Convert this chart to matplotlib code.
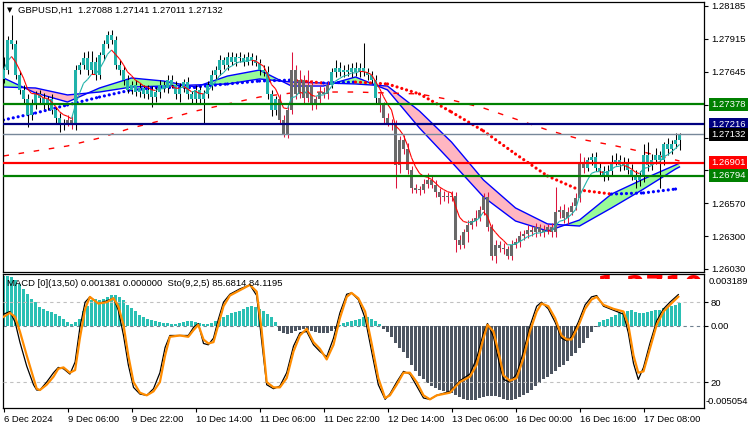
import numpy as np
import matplotlib
matplotlib.use("Agg")
import matplotlib.pyplot as plt
import matplotlib.transforms as mtransforms
from matplotlib.collections import LineCollection
from matplotlib.patches import Rectangle

plt.rcParams['font.family'] = ['Liberation Sans', 'DejaVu Sans']

# ---------------- data ----------------
symbol_title = "GBPUSD,H1  1.27088 1.27141 1.27011 1.27132"
macd_title = "MACD [0](13,50) 0.001381 0.000000  Sto(9,2,5) 85.6814 84.1195"

open_first = 1.2759
close = [
    1.2766, 1.2791, 1.2787, 1.2762, 1.2750, 1.2742, 1.2729, 1.2737, 1.2746, 1.2743,
    1.2737, 1.2742, 1.2733, 1.2727, 1.2721, 1.2723, 1.2725, 1.2721, 1.2766, 1.2770,
    1.2776, 1.2766, 1.2773, 1.2762, 1.2778, 1.2787, 1.2795, 1.2791, 1.2770, 1.2766,
    1.2758, 1.2750, 1.2754, 1.2748, 1.2751, 1.2746, 1.2750, 1.2744, 1.2748, 1.2754,
    1.2751, 1.2758, 1.2754, 1.2746, 1.2751, 1.2756, 1.2746, 1.2742, 1.2750, 1.2742,
    1.2746, 1.2754, 1.2762, 1.2766, 1.2774, 1.2770, 1.2777, 1.2773, 1.2777, 1.2776,
    1.2773, 1.2777, 1.2774, 1.2772, 1.2766, 1.2764, 1.2746, 1.2733, 1.2742, 1.2725,
    1.2714, 1.2733, 1.2766, 1.2746, 1.2758, 1.2743, 1.2754, 1.2737, 1.2742, 1.2748,
    1.2746, 1.2754, 1.2764, 1.2768, 1.2764, 1.2766, 1.2764, 1.2768, 1.2764, 1.2768,
    1.2764, 1.2762, 1.2758, 1.2743, 1.2737, 1.2727, 1.2723, 1.2721, 1.2688, 1.2709,
    1.2701, 1.2684, 1.2669, 1.2668, 1.2668, 1.2673, 1.2676, 1.2672, 1.2666, 1.2662,
    1.2663, 1.2662, 1.2663, 1.2627, 1.2623, 1.2633, 1.2639, 1.2642, 1.2645, 1.2651,
    1.2662, 1.2637, 1.2614, 1.2623, 1.2620, 1.2619, 1.2614, 1.2623, 1.2625, 1.2630,
    1.2632, 1.2635, 1.2633, 1.2637, 1.2633, 1.2635, 1.2637, 1.2633, 1.2650, 1.2651,
    1.2645, 1.2650, 1.2655, 1.2661, 1.2691, 1.2686, 1.2692, 1.2695, 1.2686, 1.2683,
    1.2680, 1.2683, 1.2691, 1.2692, 1.2688, 1.2690, 1.2684, 1.2680, 1.2676, 1.2678,
    1.2696, 1.2688, 1.2692, 1.2696, 1.2692, 1.2705, 1.2701, 1.2705, 1.27088, 1.27132,
]
# wick lengths above / below the candle body, in pips
upper_wick_pips = [
    11, 3, 20, 4, 3, 4, 4, 5, 3, 4,
    4, 3, 4, 3, 4, 3, 4, 3, 4, 3,
    5, 6, 9, 4, 3, 4, 3, 4, 3, 4,
    3, 4, 3, 4, 4, 3, 4, 3, 4, 4,
    3, 4, 4, 3, 4, 3, 4, 3, 4, 3,
    4, 3, 4, 3, 4, 3, 4, 4, 3, 4,
    3, 4, 3, 4, 3, 4, 5, 4, 3, 4,
    4, 5, 15, 4, 8, 4, 12, 4, 3, 5,
    4, 3, 4, 6, 5, 4, 5, 4, 5, 4,
    20, 4, 3, 4, 4, 3, 4, 3, 4, 3,
    4, 5, 3, 4, 3, 4, 6, 3, 4, 3,
    4, 3, 4, 3, 4, 3, 4, 3, 6, 4,
    3, 4, 3, 4, 3, 4, 3, 4, 3, 4,
    3, 4, 3, 4, 3, 4, 3, 4, 20, 4,
    5, 4, 3, 4, 7, 4, 3, 3, 4, 5,
    4, 5, 5, 6, 4, 5, 4, 5, 4, 5,
    9, 11, 5, 6, 4, 2, 5, 4, 6, 1,
]
lower_wick_pips = [
    4, 3, 4, 3, 4, 3, 10, 4, 3, 4,
    3, 4, 3, 4, 6, 4, 3, 3, 4, 3,
    3, 4, 3, 4, 3, 4, 3, 4, 3, 4,
    4, 3, 4, 3, 4, 3, 4, 8, 4, 5,
    3, 4, 3, 4, 6, 3, 4, 3, 4, 3,
    19, 3, 4, 3, 4, 3, 4, 3, 4, 3,
    4, 3, 4, 3, 4, 3, 4, 5, 4, 3,
    3, 4, 3, 4, 3, 4, 3, 4, 3, 4,
    3, 4, 3, 4, 3, 4, 3, 4, 3, 4,
    3, 4, 3, 4, 5, 4, 3, 4, 19, 6,
    4, 3, 4, 3, 4, 3, 4, 3, 4, 6,
    3, 5, 3, 10, 4, 3, 8, 3, 4, 3,
    4, 3, 4, 6, 3, 4, 3, 4, 3, 4,
    3, 4, 3, 4, 3, 4, 3, 4, 4, 5,
    4, 5, 3, 4, 3, 4, 3, 4, 3, 4,
    5, 4, 4, 3, 5, 4, 3, 4, 7, 5,
    4, 5, 4, 3, 23, 4, 5, 4, 3, 8,
]
bear_segments = [(16, 17), (69, 81), (94, 145)]

# moving averages read at every 8th bar
ma_idx = [0, 8, 16, 24, 32, 40, 48, 56, 64, 72, 80, 88, 96, 104, 112, 120,
          128, 136, 144, 152, 160, 168, 169]
ribbon_fast = [1.27595, 1.27472, 1.27398, 1.27513, 1.27595, 1.27570, 1.27521,
               1.27611, 1.27660, 1.27529, 1.27529, 1.27603, 1.27497, 1.27185,
               1.26907, 1.26620, 1.26423, 1.26341, 1.26431, 1.26644, 1.26767,
               1.26882, 1.26898]
ribbon_slow = [1.27521, 1.27513, 1.27456, 1.27480, 1.27521, 1.27529, 1.27538,
               1.27546, 1.27587, 1.27562, 1.27554, 1.27546, 1.27529, 1.27324,
               1.27070, 1.26759, 1.26530, 1.26399, 1.26382, 1.26530, 1.26685,
               1.26849, 1.26866]
dotted_ma = [1.27251, 1.27308, 1.27374, 1.27439, 1.27497, 1.27521, 1.27521,
             1.27546, 1.27570, 1.27578, 1.27554, 1.27562, 1.27546, 1.27464,
             1.27316, 1.27161, 1.26972, 1.26792, 1.26677, 1.26644, 1.26653,
             1.26685, 1.26694]
dashed_ma = [1.26956, 1.26997, 1.27038, 1.27103, 1.27185, 1.27251, 1.27324,
             1.27382, 1.27439, 1.27472, 1.27480, 1.27480, 1.27472, 1.27464,
             1.27415, 1.27349, 1.27259, 1.27169, 1.27095, 1.27046, 1.26988,
             1.26923, 1.26915]

level_values = [1.27378, 1.27216, 1.27132, 1.26901, 1.26794]
level_labels = ["1.27378", "1.27216", "1.27132", "1.26901", "1.26794"]

price_ticks = [1.28185, 1.27915, 1.27645, 1.27375, 1.27105, 1.26840, 1.26570, 1.26300, 1.26030]
price_tick_labels = ["1.28185", "1.27915", "1.27645", "1.27375", "1.27105", "1.26840",
                     "1.26570", "1.26300", "1.26030"]

time_labels = ["6 Dec 2024", "9 Dec 06:00", "9 Dec 22:00", "10 Dec 14:00", "11 Dec 06:00",
               "11 Dec 22:00", "12 Dec 14:00", "13 Dec 06:00", "16 Dec 00:00",
               "16 Dec 16:00", "17 Dec 08:00"]

# MACD histogram in units of 1e-5
macd_hist_e5 = [
    309, 306, 300, 279, 258, 228, 197, 166, 146, 115,
    105, 94, 84, 74, 63, 43, 23, 12, 23, 43,
    94, 125, 156, 166, 160, 166, 177, 192, 192, 177,
    156, 131, 111, 90, 69, 57, 45, 33, 29, 23,
    18, 17, 12, 12, 20, 26, 29, 29, 23, 17,
    12, 12, 20, 29, 37, 54, 68, 78, 84, 94,
    105, 115, 125, 115, 105, 94, 74, 54, 23, -33,
    -45, -49, -45, -33, -25, -18, -23, -29, -35, -41,
    -45, -41, -33, -18, 8, 18, 25, 31, 37, 45,
    55, 57, 45, 29, 12, -18, -39, -69, -106, -137,
    -162, -199, -238, -279, -306, -326, -351, -371, -383, -394,
    -398, -404, -412, -424, -438, -449, -459, -459, -457, -445,
    -438, -431, -429, -429, -438, -449, -455, -459, -449, -437,
    -424, -412, -394, -373, -352, -330, -312, -295, -275, -254,
    -238, -217, -186, -168, -137, -106, -74, -39, -8, 26,
    35, 41, 57, 69, 78, 84, 94, 98, 84, 76,
    78, 84, 90, 97, 100, 111, 117, 123, 131, 138,
]

stoch_idx = [0, 1.6, 2.9, 4.1, 5.8, 7.5, 8.3, 9.1, 10.8, 12.5, 13.7, 15, 16.6, 17.9,
             19.1, 20.4, 21.6, 23.7, 25.8, 27.5, 28.7, 30, 31.2, 32.5, 34.1, 35.8,
             37.5, 39.1, 40.4, 41.6, 44.1, 46.2, 47.5, 48.7, 50, 51.2, 52.5, 53.7,
             55, 56.6, 59.1, 61.6, 63.3, 64.5, 65.8, 67.5, 69.1, 70.8, 72.5, 74.1,
             75.8, 77.5, 79.1, 80.8, 82.5, 84.1, 85.8, 87, 88.7, 90.4, 92.1, 93.7,
             95.4, 96.6, 98.3, 100, 101.6, 103.3, 105, 106.6, 108.3, 111.6, 114.1,
             116.6, 118.3, 120, 121, 122.5, 124.1, 125, 126.6, 128.3, 130, 131.6,
             133.3, 134.5, 136.2, 137.9, 139.5, 140.8, 142, 143.7, 145.4, 147,
             148.3, 150, 152.5, 155, 156.2, 157.5, 158.7, 160, 161.6, 163.3, 165,
             166.6, 168.7]
stoch_signal = [69, 72, 69, 58, 40, 23, 15, 14, 18, 24, 30, 31, 27, 29,
                53, 75, 84, 79, 80, 83, 77, 63, 40, 20, 12, 10,
                13, 20, 40, 54, 55, 54, 59, 63, 52, 49, 50, 63,
                77, 85, 89, 93, 88, 60, 20, 16, 16, 23, 43, 55,
                60, 50, 45, 37, 48, 68, 84, 87, 83, 73, 48, 23,
                8, 10, 18, 27, 27, 20, 10, 7, 10, 12, 20,
                24, 33, 53, 63, 58, 38, 25, 21, 23, 38, 58,
                73, 79, 77, 68, 55, 52, 52, 62, 75, 82,
                84, 78, 75, 73, 63, 40, 27, 28, 45, 63, 73,
                78, 84.1]
stoch_main = [71, 73, 65, 50, 32, 18, 14, 14, 20, 27, 31, 30, 26, 35,
              61, 80, 84, 79, 81, 83, 74, 55, 33, 16, 11, 10,
              15, 27, 46, 55, 55, 55, 61, 64, 49, 48, 53, 67,
              80, 86, 90, 93, 85, 52, 18, 15, 17, 27, 47, 57,
              58, 48, 43, 39, 53, 72, 86, 87, 82, 68, 42, 18,
              7, 11, 20, 28, 26, 17, 8, 7, 10, 13, 21,
              26, 38, 57, 64, 54, 32, 22, 20, 26, 43, 62,
              77, 80, 75, 65, 53, 51, 54, 65, 78, 84,
              85, 77, 74, 71, 57, 34, 22, 31, 49, 66, 75,
              80, 85.7]

macd_top, macd_bottom = 0.003189, -0.005054

# ---------------- colours ----------------
TEAL = '#20B2AA'
HIST_TEAL = '#2AC0B4'
GRAY = '#696969'
CRIMSON = '#DC143C'
SLATE = '#4D5561'
level_colors = ['#008000', '#000080', '#778899', '#FF0000', '#008000']
label_box_colors = ['#008000', '#000080', '#000000', '#FF0000', '#008000']
level_widths = [1.6, 1.6, 1.0, 1.6, 1.6]
FS = 6.8

# ---------------- figure ----------------
W, H = 750, 430
fig = plt.figure(figsize=(W / 100, H / 100), dpi=100)


def rect(l, t, r, b):
    return [l / W, 1 - b / H, (r - l) / W, (b - t) / H]


ax = fig.add_axes(rect(3, 2, 704, 272))
axm = fig.add_axes(rect(3, 274, 704, 408))

n = len(close)
idx = np.arange(n)
c = np.array(close)
o = np.r_[open_first, c[:-1]]
hi = np.maximum(o, c) + np.array(upper_wick_pips) * 1e-4
lo = np.minimum(o, c) - np.array(lower_wick_pips) * 1e-4
bear = np.zeros(n, bool)
for s, e in bear_segments:
    bear[s:e + 1] = True

xlim = (-0.125, -0.125 + 701 / 4)

# ribbon
mi = np.array(ma_idx)
rf = np.array(ribbon_fast)
rs = np.array(ribbon_slow)
ax.fill_between(mi, rf, rs, where=rf >= rs, interpolate=True, color='#98FB98', lw=0, zorder=1)
ax.fill_between(mi, rf, rs, where=rf < rs, interpolate=True, color='#FFB6C1', lw=0, zorder=1)
ax.plot(mi, rf, color='#0000FF', lw=1.0, zorder=1.5)
ax.plot(mi, rs, color='#0000FF', lw=1.0, zorder=1.5)

# dashed long MA
ax.plot(mi, dashed_ma, color='#FF0000', lw=1.0, ls=(0, (4, 7)), zorder=1.6)

# dotted MA, coloured by direction
dm = np.array(dotted_ma)
for k in range(len(mi) - 1):
    col = '#0000FF' if dm[k + 1] >= dm[k] else '#FF0000'
    ax.plot(mi[k:k + 2], dm[k:k + 2], color=col, lw=2.3, ls=(0, (0.01, 1.55)),
            dash_capstyle='round', zorder=2)

# candles
wick_cols = [CRIMSON if b else 'black' for b in bear]
body_cols = [GRAY if b else TEAL for b in bear]
ax.vlines(idx, lo, hi, colors=wick_cols, lw=0.75, zorder=3)
heights = np.maximum(np.abs(c - o), 0.00002)
ax.bar(idx, heights, bottom=np.minimum(o, c), width=0.78, color=body_cols, lw=0, zorder=4)

# thin fast EMA of the closes, coloured by direction
ema = np.empty(n)
ema[0] = c[0]
alpha = 2 / (6 + 1)
for i in range(1, n):
    ema[i] = ema[i - 1] + alpha * (c[i] - ema[i - 1])
segs = [[(idx[i], ema[i]), (idx[i + 1], ema[i + 1])] for i in range(n - 1)]
seg_cols = [TEAL if ema[i + 1] >= ema[i] else '#FF0000' for i in range(n - 1)]
ax.add_collection(LineCollection(segs, colors=seg_cols, linewidths=0.8, zorder=5))

# horizontal levels with price boxes
trans = mtransforms.blended_transform_factory(ax.transAxes, ax.transData)
for val, lab, lc, bc, lw in zip(level_values, level_labels, level_colors,
                                 label_box_colors, level_widths):
    ax.axhline(val, color=lc, lw=lw, zorder=6)
    ax.text(1 + 7 / 701, val, lab, transform=trans, color='white', fontsize=FS,
            va='center', ha='left', clip_on=False, zorder=10,
            bbox=dict(boxstyle='square,pad=0.22', fc=bc, ec='none'))

ax.set_xlim(*xlim)
ax.set_ylim(1.28234 - 272 * 0.00008194, 1.28234 - 2 * 0.00008194)
ax.set_xticks([])
ax.yaxis.tick_right()
ax.set_yticks(price_ticks)
ax.set_yticklabels(price_tick_labels)
ax.tick_params(axis='y', length=3, width=0.8, pad=2, labelsize=FS, colors='black')
for sp in ax.spines.values():
    sp.set_color('black')
    sp.set_linewidth(0.9)

fig.text(18 / W, 1 - 10 / H, symbol_title, fontsize=FS, va='center', ha='left')
fig.text(7 / W, 1 - 10 / H, '\u25BC', fontsize=5, va='center', ha='left', family='DejaVu Sans')

# ---------------- MACD / Stochastic panel ----------------
hist = np.array(macd_hist_e5) * 1e-5
axm.bar(idx, hist, width=0.75, color=[HIST_TEAL if v >= 0 else SLATE for v in hist], lw=0, zorder=2)
axm.axhline(0, color='#708090', lw=0.8, ls=(0, (3, 3)), zorder=1)
axm.set_xlim(*xlim)
axm.set_ylim(macd_bottom, macd_top)

axs = axm.twinx()
axm.yaxis.tick_right()
axm.set_yticks([0])
axm.set_yticklabels(['0.00'])
axm.tick_params(axis='y', length=3, width=0.8, pad=2, labelsize=FS,
                left=False, labelleft=False, right=True, labelright=True)
axm.set_xticks(np.arange(0, n, 16))
axm.set_xticklabels(time_labels, ha='left')
axm.tick_params(axis='x', length=3, width=0.8, pad=2, labelsize=FS)
for sp in axm.spines.values():
    sp.set_color('black')
    sp.set_linewidth(0.9)

axs.set_ylim(0.5, 101.2)
axs.set_xlim(*xlim)
axs.axhline(80, color='#C0C0C0', lw=0.8, ls=(0, (3, 3)), zorder=1)
axs.axhline(20, color='#C0C0C0', lw=0.8, ls=(0, (3, 3)), zorder=1)
axs.plot(stoch_idx, stoch_main, color='black', lw=0.9, zorder=3)
axs.plot(stoch_idx, stoch_signal, color='#FF8C00', lw=1.6, zorder=4)
axs.set_yticks([80, 20])
axs.set_yticklabels(['80', '20'])
axs.tick_params(axis='y', length=3, width=0.8, pad=2, labelsize=FS)
for sp in axs.spines.values():
    sp.set_visible(False)

fig.text(7 / W, 1 - 284 / H, macd_title, fontsize=FS, va='center', ha='left')
fig.text(709 / W, 1 - 281 / H, '0.003189', fontsize=FS, va='center', ha='left')
fig.text(706 / W, 1 - 401.5 / H, '-0.005054', fontsize=FS, va='center', ha='left')

# partially hidden large red label at top of the indicator window
red_txt = axs.text((597 - 3) / 701, 1.0, '1.2710', transform=axs.transAxes, color='#FF0000',
                   fontsize=20, fontweight='bold', va='top', ha='left', family='DejaVu Sans',
                   zorder=5, clip_on=True)
clip_rect = Rectangle((0, 1 - 5 / 134), 1, 5 / 134, transform=axs.transAxes,
                      fc='none', ec='none')
red_txt.set_clip_path(clip_rect)

fig.savefig('out.png', dpi=100)
